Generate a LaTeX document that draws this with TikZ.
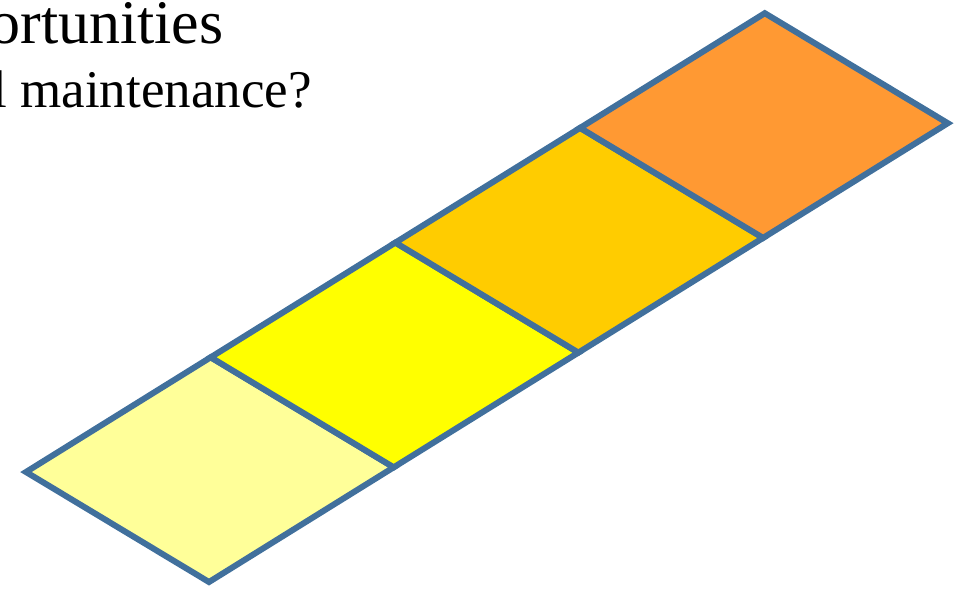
\documentclass[tikz,border=0pt]{standalone}
\usepackage{fontspec}
\setmainfont{Liberation Serif}
\definecolor{tileedge}{HTML}{41709C}
\definecolor{tileA}{HTML}{FFFF99}
\definecolor{tileB}{HTML}{FFFF00}
\definecolor{tileC}{HTML}{FFCC00}
\definecolor{tileD}{HTML}{FF9933}
\tikzset{
	tile/.style={draw=tileedge, line width=3pt, line join=miter},
	slidetext/.style={anchor=base east, inner sep=0pt}
}

\begin{document}
\begin{tikzpicture}[x=0.5pt,y=-0.5pt]
		\useasboundingbox (0,0) rectangle (962,594);
		% Texto
		\node [slidetext, font=\fontsize{31}{34}\selectfont] (titleline) at (224,43) {ortunities};
		\node [slidetext, font=\fontsize{26.5}{30}\selectfont] (questline) at (312,107) {l\hspace{0.24em}maintenance?};
		
		% Baldosas
		\foreach \c [count=\i from 0] in {tileA,tileB,tileC,tileD}
			\filldraw [tile, fill=\c] ({209+184.7*\i},{582-114.7*\i}) -- ++(184.7,-114.7) -- ++(-183,-110) -- ++(-184.7,114.7) -- cycle;
	\end{tikzpicture}
\end{document}
